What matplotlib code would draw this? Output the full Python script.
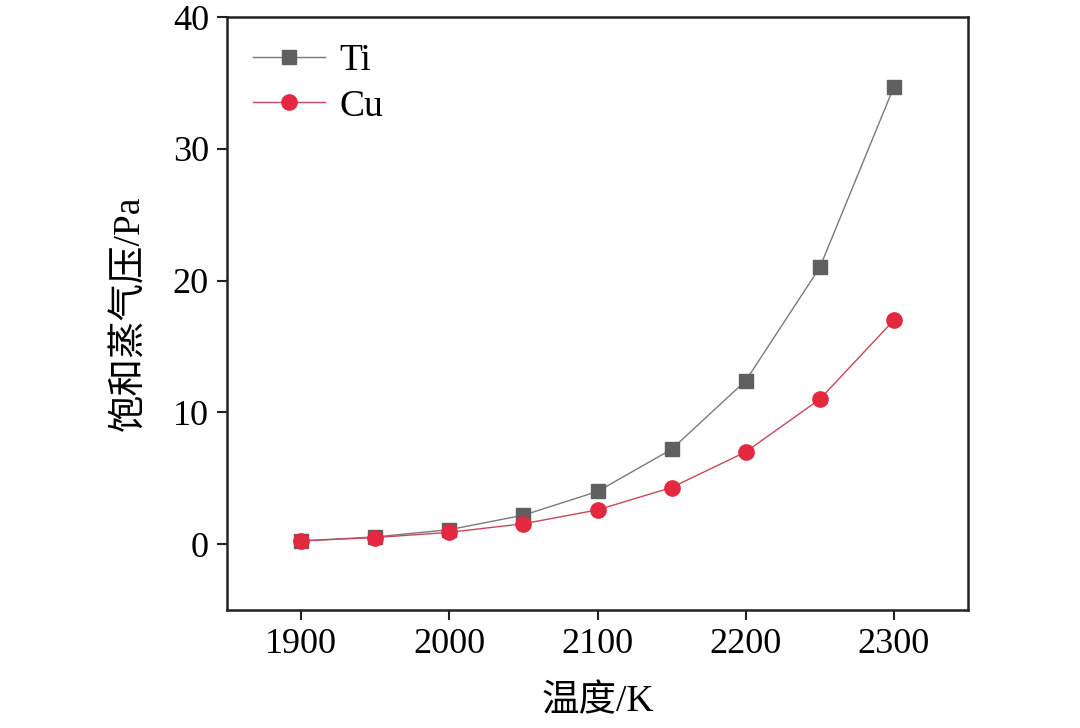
import matplotlib
matplotlib.use("Agg")
import matplotlib.pyplot as plt

plt.rcParams['font.family'] = ['Liberation Serif', 'Noto Sans CJK SC']
plt.rcParams['mathtext.fontset'] = 'stix'

temps = [1900, 1950, 2000, 2050, 2100, 2150, 2200, 2250, 2300]
ti_pa = [0.25, 0.55, 1.1, 2.2, 4.0, 7.2, 12.4, 21.0, 34.7]
cu_pa = [0.25, 0.5, 0.9, 1.55, 2.6, 4.3, 7.0, 11.0, 17.0]

fig = plt.figure(figsize=(10.8, 7.28), dpi=100)
ax = fig.add_axes([0.2102, 0.162, 0.6861, 0.8146])

ax.plot(temps, ti_pa, color="#7a7a7a", lw=1.0, marker="s", ms=9.5,
        mfc="#5f5f5f", mec="#5f5f5f", label="Ti")
ax.plot(temps, cu_pa, color="#c8475a", lw=1.0, marker="o", ms=11,
        mfc="#e3283f", mec="#e3283f", label="Cu")

ax.set_xlim(1850, 2350)
ax.set_ylim(-5, 40)
ax.set_xticks([1900, 2000, 2100, 2200, 2300])
ax.set_yticks([0, 10, 20, 30, 40])
ax.tick_params(direction="out", length=7, width=1.5, labelsize=26, pad=6,
               color="#222222")
for s in ax.spines.values():
    s.set_linewidth(1.8)
    s.set_color("#222222")

ax.set_xlabel("温度/K", fontsize=27, labelpad=17)
ax.set_ylabel("饱和蒸气压/Pa", fontsize=27, labelpad=18)

leg = ax.legend(loc="upper left", fontsize=27, frameon=False,
                handlelength=1.9, handletextpad=0.4, labelspacing=0.3,
                borderaxespad=0.3)

fig.savefig("out.png", dpi=100)
